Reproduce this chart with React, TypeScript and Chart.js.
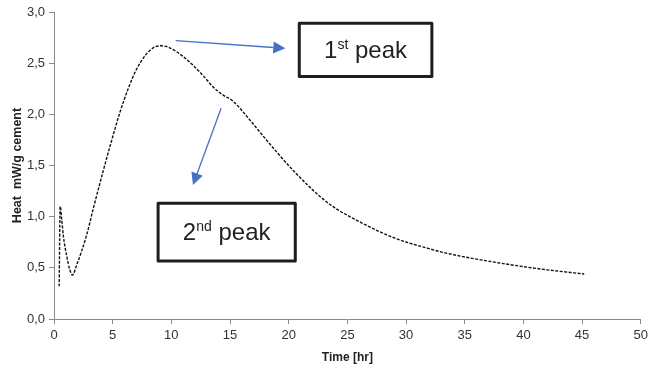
import React, { useEffect, useRef } from "react";
import { Chart, registerables } from "chart.js";

Chart.register(...registerables);

const timeHr = [0.44, 0.53, 0.66, 0.8, 1.09, 1.35, 1.57, 1.94, 2.78, 3.35, 4.2, 4.9, 5.62, 6.32, 7.03, 7.74, 8.45, 9.15, 9.86, 11.27, 12.69, 13.54, 14.39, 15.24, 16.94, 17.73, 20.56, 23.39, 26.21, 29.05, 31.88, 33.57, 37.82, 42.06, 45.18];
const heatValues = [0.32, 1.1, 0.97, 0.81, 0.61, 0.48, 0.43, 0.53, 0.82, 1.08, 1.45, 1.74, 2.02, 2.25, 2.44, 2.57, 2.65, 2.67, 2.65, 2.54, 2.38, 2.27, 2.19, 2.13, 1.91, 1.8, 1.43, 1.13, 0.94, 0.79, 0.69, 0.64, 0.55, 0.48, 0.44];

const xTicks = [0, 5, 10, 15, 20, 25, 30, 35, 40, 45, 50];
const yTicks = [0, 0.5, 1.0, 1.5, 2.0, 2.5, 3.0];

// annotation anchors in data units
const peak1Box = [20.9, 32.2, 2.89, 2.37];
const peak1Arrow = [10.37, 2.72, 19.71, 2.645];
const peak2Box = [8.87, 20.56, 1.13, 0.567];
const peak2Arrow = [14.24, 2.06, 11.84, 1.31];

const FONT = "'Liberation Sans', Arial, sans-serif";

function drawArrow(ctx: CanvasRenderingContext2D, x1: number, y1: number, x2: number, y2: number) {
  const ang = Math.atan2(y2 - y1, x2 - x1);
  const head = 12;
  const half = 6;
  const bx = x2 - head * Math.cos(ang);
  const by = y2 - head * Math.sin(ang);
  ctx.strokeStyle = "#4472C4";
  ctx.fillStyle = "#4472C4";
  ctx.lineWidth = 1.3;
  ctx.setLineDash([]);
  ctx.beginPath();
  ctx.moveTo(x1, y1);
  ctx.lineTo(bx, by);
  ctx.stroke();
  ctx.beginPath();
  ctx.moveTo(x2, y2);
  ctx.lineTo(bx + half * Math.sin(ang), by - half * Math.cos(ang));
  ctx.lineTo(bx - half * Math.sin(ang), by + half * Math.cos(ang));
  ctx.closePath();
  ctx.fill();
}

function drawBox(ctx: CanvasRenderingContext2D, x1: number, x2: number, y1: number, y2: number, main: string, sup: string) {
  ctx.save();
  ctx.setLineDash([]);
  ctx.fillStyle = "#ffffff";
  ctx.fillRect(x1, y1, x2 - x1, y2 - y1);
  ctx.strokeStyle = "#1e1e1e";
  ctx.lineWidth = 3;
  ctx.lineJoin = "round";
  ctx.strokeRect(x1, y1, x2 - x1, y2 - y1);
  const big = "24px " + FONT;
  const small = "14px " + FONT;
  ctx.font = big;
  const w1 = ctx.measureText(main).width;
  const w3 = ctx.measureText(" peak").width;
  ctx.font = small;
  const w2 = ctx.measureText(sup).width;
  const total = w1 + w2 + w3;
  let x = (x1 + x2) / 2 - total / 2;
  const base = (y1 + y2) / 2 + 8;
  ctx.fillStyle = "#222222";
  ctx.textBaseline = "alphabetic";
  ctx.textAlign = "left";
  ctx.font = big;
  ctx.fillText(main, x, base);
  x += w1;
  ctx.font = small;
  ctx.fillText(sup, x, base - 9);
  x += w2;
  ctx.font = big;
  ctx.fillText(" peak", x, base);
  ctx.restore();
}

const annotationPlugin = {
  id: "peakNotes",
  afterDatasetsDraw(chart: any) {
    const ctx = chart.ctx as CanvasRenderingContext2D;
    const xs = chart.scales.x;
    const ys = chart.scales.y;
    const px = (v: number) => xs.getPixelForValue(v);
    const py = (v: number) => ys.getPixelForValue(v);
    ctx.save();
    drawArrow(ctx, px(peak1Arrow[0]), py(peak1Arrow[1]), px(peak1Arrow[2]), py(peak1Arrow[3]));
    drawArrow(ctx, px(peak2Arrow[0]), py(peak2Arrow[1]), px(peak2Arrow[2]), py(peak2Arrow[3]));
    drawBox(ctx, px(peak1Box[0]), px(peak1Box[1]), py(peak1Box[2]), py(peak1Box[3]), "1", "st");
    drawBox(ctx, px(peak2Box[0]), px(peak2Box[1]), py(peak2Box[2]), py(peak2Box[3]), "2", "nd");
    ctx.restore();
  },
};

export default function App() {
  const ref = useRef<HTMLCanvasElement | null>(null);
  useEffect(() => {
    if (!ref.current) return;
    const points = timeHr.map((t, i) => ({ x: t, y: heatValues[i] }));
    const chart = new Chart(ref.current, {
      type: "line",
      data: {
        datasets: [
          {
            data: points,
            borderColor: "#111111",
            borderWidth: 1.4,
            borderDash: [3, 1.5],
            pointRadius: 0,
            fill: false,
            cubicInterpolationMode: "monotone",
          },
        ],
      },
      options: {
        animation: false,
        responsive: false,
        maintainAspectRatio: false,
        layout: { padding: { top: 12, right: 8, left: 0, bottom: 0 } },
        plugins: { legend: { display: false }, tooltip: { enabled: false } },
        scales: {
          x: {
            type: "linear",
            min: 0,
            max: 50,
            afterBuildTicks: (s: any) => {
              s.ticks = xTicks.map((v) => ({ value: v }));
            },
            afterFit: (s: any) => {
              s.height = 52;
            },
            ticks: {
              color: "#333333",
              font: { family: FONT, size: 13 },
              padding: 4,
              maxRotation: 0,
              callback: (v: any) => String(v),
            },
            grid: {
              drawOnChartArea: false,
              drawTicks: true,
              tickLength: 5,
              color: "#8a8a8a",
            },
            border: { display: true, color: "#8a8a8a", width: 1 },
            title: {
              display: true,
              text: "Time [hr]",
              color: "#222222",
              font: { family: FONT, size: 12, weight: "bold" },
              padding: { top: 0, bottom: 6 },
            },
          },
          y: {
            type: "linear",
            min: 0,
            max: 3,
            afterBuildTicks: (s: any) => {
              s.ticks = yTicks.map((v) => ({ value: v }));
            },
            afterFit: (s: any) => {
              s.width = 54;
            },
            ticks: {
              color: "#333333",
              font: { family: FONT, size: 13 },
              padding: 4,
              callback: (v: any) => Number(v).toFixed(1).replace(".", ","),
            },
            grid: {
              drawOnChartArea: false,
              drawTicks: true,
              tickLength: 5,
              color: "#8a8a8a",
            },
            border: { display: true, color: "#8a8a8a", width: 1 },
            title: {
              display: true,
              text: "Heat  mW/g cement",
              color: "#222222",
              font: { family: FONT, size: 12.5, weight: "bold" },
              padding: { top: 10, bottom: 2 },
            },
          },
        },
      },
      plugins: [annotationPlugin],
    } as any);
    return () => chart.destroy();
  }, []);
  return (
    <div style={{ position: "fixed", left: 0, top: 0, width: 652, height: 371, background: "#fff" }}>
      <canvas ref={ref} width={652} height={371} style={{ width: 652, height: 371 }} />
    </div>
  );
}
